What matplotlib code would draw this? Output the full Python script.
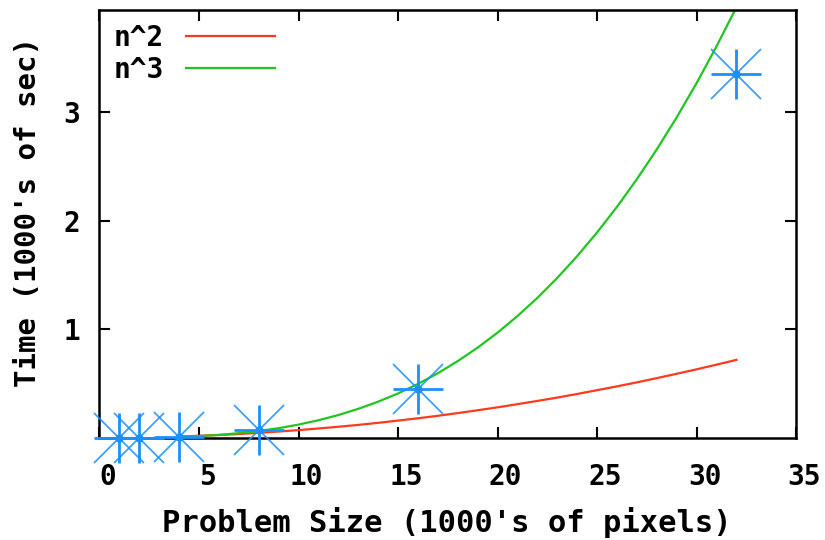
import matplotlib
matplotlib.use("Agg")
import matplotlib.pyplot as plt
import matplotlib.transforms as mtrans

# Fitted curves
curve_x = [4, 5, 6, 7, 8, 9, 10, 11, 12, 13, 14, 15, 16, 17, 18, 19, 20,
           21, 22, 23, 24, 25, 26, 27, 28, 29, 30, 31, 32]
n2_y = [0.011, 0.018, 0.025, 0.034, 0.045, 0.057, 0.070, 0.085, 0.101, 0.118,
        0.137, 0.158, 0.179, 0.202, 0.227, 0.253, 0.280, 0.309, 0.339, 0.370,
        0.403, 0.438, 0.473, 0.510, 0.549, 0.589, 0.630, 0.673, 0.717]
n3_y = [0.008, 0.015, 0.026, 0.042, 0.062, 0.088, 0.121, 0.161, 0.209, 0.266,
        0.332, 0.408, 0.496, 0.594, 0.706, 0.830, 0.968, 1.121, 1.288, 1.472,
        1.673, 1.891, 2.127, 2.382, 2.656, 2.951, 3.267, 3.605, 3.965]

# Measured points
meas_x = [1, 2, 4, 8, 16, 32]
meas_y = [0.0, 0.0, 0.005, 0.07, 0.445, 3.35]

x_ticks = [0, 5, 10, 15, 20, 25, 30, 35]
y_ticks = [1, 2, 3]

RED = "#ff3a1e"
GREEN = "#22c422"
BLUE = "#1e8fff"

FAM = "DejaVu Sans Mono"
font = dict(family=FAM, weight="bold")

fig = plt.figure(figsize=(8.25, 5.4), dpi=100)
ax = fig.add_axes([0.1206, 0.1894, 0.965 - 0.1206, 0.9815 - 0.1894])

ax.plot(curve_x, n2_y, color=RED, lw=1.6, label="n^2", zorder=2)
ax.plot(curve_x, n3_y, color=GREEN, lw=1.6, label="n^3", zorder=2)

ax.plot(meas_x, meas_y, ls="none", marker="+", ms=36, mew=2.0, color=BLUE, clip_on=False, zorder=3)
ax.plot(meas_x, meas_y, ls="none", marker="x", ms=36, mew=1.3, color=BLUE, alpha=0.85, clip_on=False, zorder=3)
ax.plot(meas_x, meas_y, ls="none", marker="o", ms=5, color=BLUE, clip_on=False, zorder=3)

ax.set_xlim(0, 35)
ax.set_ylim(0, 3.94)
ax.set_xticks(x_ticks)
ax.set_yticks(y_ticks)
ax.set_xticklabels([str(t) for t in x_ticks], fontsize=20, **font)
ax.set_yticklabels([str(t) for t in y_ticks], fontsize=20, **font)
ax.tick_params(direction="in", length=8, width=1.5, top=True, right=True)
ax.tick_params(axis="x", pad=18)
ax.tick_params(axis="y", pad=14)
shift = mtrans.ScaledTranslation(0.08, 0, fig.dpi_scale_trans)
for lab in ax.get_xticklabels():
    lab.set_transform(lab.get_transform() + shift)
for s in ax.spines.values():
    s.set_linewidth(1.8)

fig.text(447 / 825, 1 - 523 / 540, "Problem Size (1000's of pixels)", fontsize=22,
         ha="center", va="center", **font)
fig.text(28 / 825, 1 - 212 / 540, "Time (1000's of sec)", fontsize=21, rotation=90,
         ha="center", va="center", **font)

leg = ax.legend(loc="upper left", frameon=False, markerfirst=False,
                prop=dict(family=FAM, weight="bold", size=20),
                handlelength=3.2, handletextpad=0.8, borderaxespad=0.0, borderpad=0.5,
                labelspacing=0.15)

fig.savefig("out.png", dpi=100)
